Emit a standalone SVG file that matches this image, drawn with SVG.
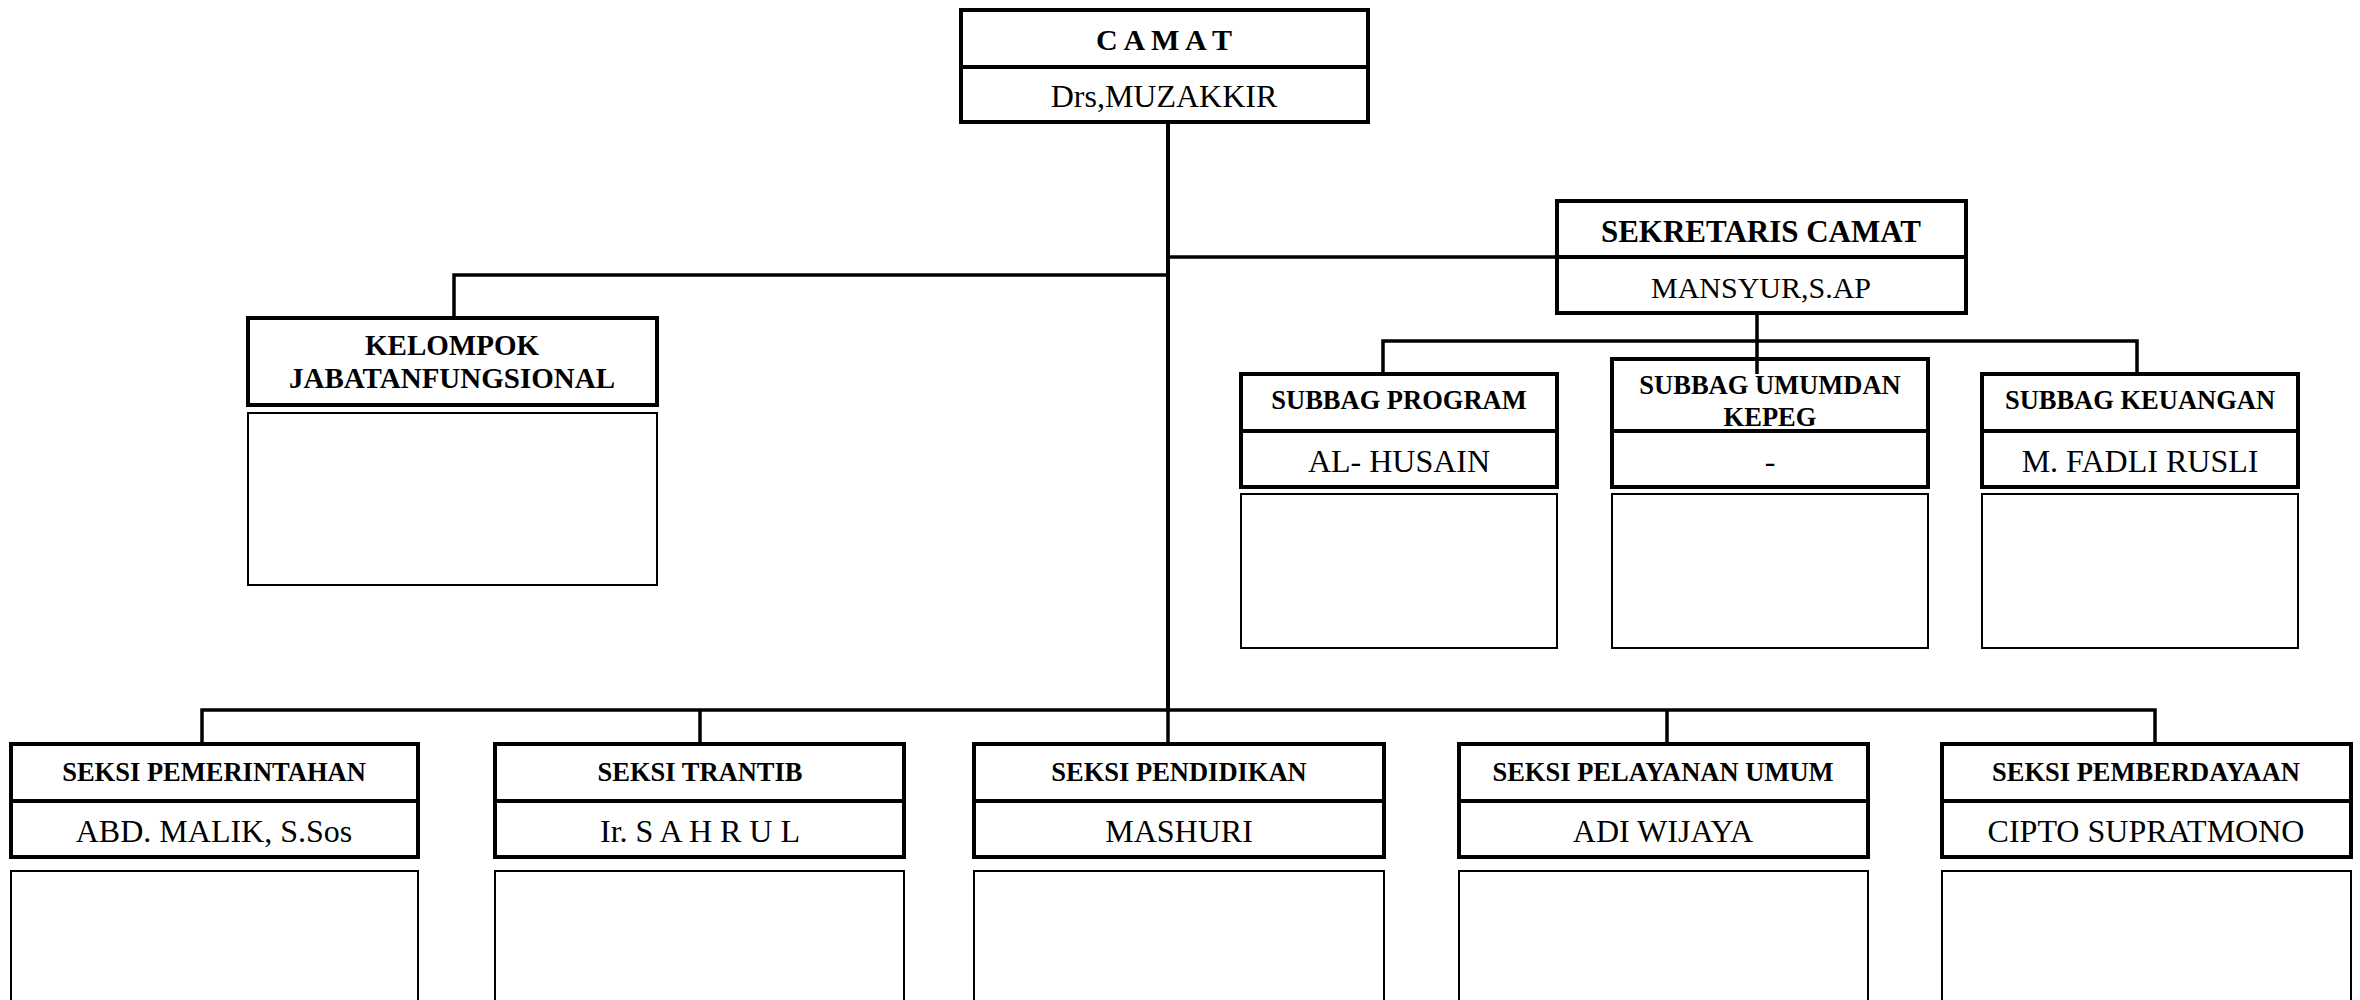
<svg xmlns="http://www.w3.org/2000/svg" width="2360" height="1000" viewBox="0 0 2360 1000">
<style>
.box{fill:#fff;stroke:#000;stroke-width:4}
.thin{fill:#fff;stroke:#000;stroke-width:2}
.div{stroke:#000;stroke-width:4}
.con{fill:none;stroke:#000;stroke-width:3.5}
text{font-family:"Liberation Serif","Times New Roman",serif;fill:#000;text-anchor:middle}
.t{font-weight:bold;font-size:26.5px}
.n{font-size:32px}
</style>
<rect width="2360" height="1000" fill="#fff"/>
<g id="connectors">
<path class="con" style="stroke-width:4" d="M1168,123 V710"/>
<path class="con" d="M1168,257 H1557"/>
<path class="con" d="M1168,275 H454 V318"/>
<path class="con" d="M1383,374 V341 H2137 V374"/>
<path class="con" d="M202,744 V710 H2155 V744"/>
<path class="con" d="M700,710 V744 M1168,710 V744 M1667,710 V744"/>
</g>
<g id="camat">
<rect class="box" x="961" y="10" width="407" height="112"/>
<line class="div" x1="961" y1="67" x2="1368" y2="67"/>
<text x="1164" y="50" font-weight="bold" font-size="30">C A M A T</text>
<text x="1164" y="107" font-size="32">Drs,MUZAKKIR</text>
</g>
<g id="sekretaris">
<rect class="box" x="1557" y="201" width="409" height="112"/>
<line class="div" x1="1557" y1="257" x2="1966" y2="257"/>
<text x="1761" y="242" font-weight="bold" font-size="31">SEKRETARIS CAMAT</text>
<text x="1761" y="298" font-size="30">MANSYUR,S.AP</text>
</g>
<g id="kelompok">
<rect class="box" x="248" y="318" width="409" height="87"/>
<rect class="thin" x="248" y="413" width="409" height="172"/>
<text x="452" y="355" font-weight="bold" font-size="29">KELOMPOK</text>
<text x="452" y="388" font-weight="bold" font-size="29">JABATANFUNGSIONAL</text>
</g>
<g id="subbag-program">
<rect class="box" x="1241" y="374" width="316" height="113"/>
<line class="div" x1="1241" y1="431" x2="1557" y2="431"/>
<rect class="thin" x="1241" y="494" width="316" height="154"/>
<text class="t" x="1399" y="409">SUBBAG PROGRAM</text>
<text class="n" x="1399" y="472">AL- HUSAIN</text>
</g>
<g id="subbag-umum">
<rect class="box" x="1612" y="359" width="316" height="128"/>
<line class="div" x1="1612" y1="431" x2="1928" y2="431"/>
<rect class="thin" x="1612" y="494" width="316" height="154"/>
<text class="t" x="1770" y="394">SUBBAG UMUMDAN</text>
<text class="t" x="1770" y="426">KEPEG</text>
<text class="n" x="1770" y="472">-</text>
</g>
<path class="con" d="M1757,313 V374"/>
<g id="subbag-keuangan">
<rect class="box" x="1982" y="374" width="316" height="113"/>
<line class="div" x1="1982" y1="431" x2="2298" y2="431"/>
<rect class="thin" x="1982" y="494" width="316" height="154"/>
<text class="t" x="2140" y="409">SUBBAG KEUANGAN</text>
<text class="n" x="2140" y="472">M. FADLI RUSLI</text>
</g>
<g id="seksi-pemerintahan">
<rect class="box" x="11" y="744" width="407" height="113"/>
<line class="div" x1="11" y1="801" x2="418" y2="801"/>
<rect class="thin" x="11" y="871" width="407" height="140"/>
<text class="t" x="214" y="781">SEKSI PEMERINTAHAN</text>
<text class="n" x="214" y="842">ABD. MALIK, S.Sos</text>
</g>
<g id="seksi-trantib">
<rect class="box" x="495" y="744" width="409" height="113"/>
<line class="div" x1="495" y1="801" x2="904" y2="801"/>
<rect class="thin" x="495" y="871" width="409" height="140"/>
<text class="t" x="700" y="781">SEKSI TRANTIB</text>
<text class="n" x="700" y="842">Ir. S A H R U L</text>
</g>
<g id="seksi-pendidikan">
<rect class="box" x="974" y="744" width="410" height="113"/>
<line class="div" x1="974" y1="801" x2="1384" y2="801"/>
<rect class="thin" x="974" y="871" width="410" height="140"/>
<text class="t" x="1179" y="781">SEKSI PENDIDIKAN</text>
<text class="n" x="1179" y="842">MASHURI</text>
</g>
<g id="seksi-pelayanan">
<rect class="box" x="1459" y="744" width="409" height="113"/>
<line class="div" x1="1459" y1="801" x2="1868" y2="801"/>
<rect class="thin" x="1459" y="871" width="409" height="140"/>
<text class="t" x="1663" y="781">SEKSI PELAYANAN UMUM</text>
<text class="n" x="1663" y="842">ADI WIJAYA</text>
</g>
<g id="seksi-pemberdayaan">
<rect class="box" x="1942" y="744" width="409" height="113"/>
<line class="div" x1="1942" y1="801" x2="2351" y2="801"/>
<rect class="thin" x="1942" y="871" width="409" height="140"/>
<text class="t" x="2146" y="781">SEKSI PEMBERDAYAAN</text>
<text class="n" x="2146" y="842">CIPTO SUPRATMONO</text>
</g>
</svg>
